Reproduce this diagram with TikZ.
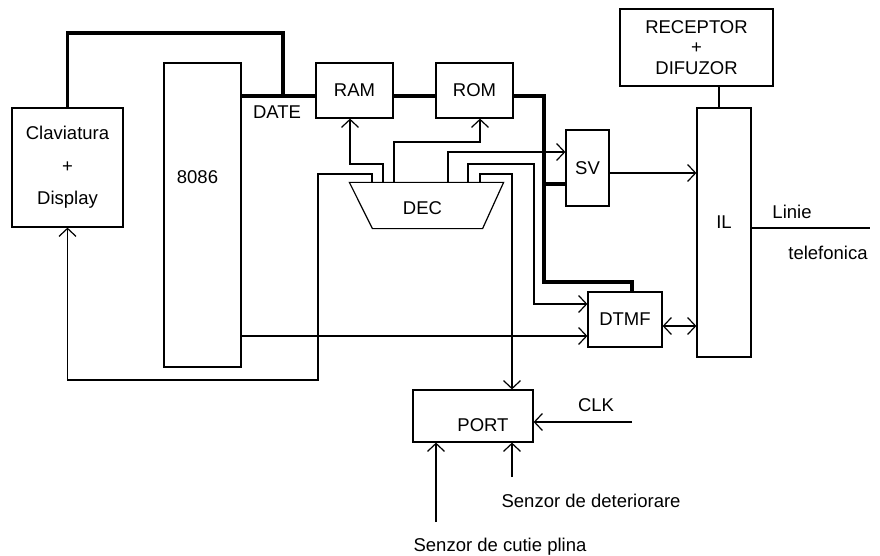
\documentclass[tikz,border=0pt]{standalone}
\usepackage{fontspec}
\setmainfont{Liberation Sans}
\usetikzlibrary{arrows.meta}

\begin{document}
\begin{tikzpicture}[x=1pt,y=-1pt,line width=1.2pt,
  font=\fontsize{18.5}{20.5}\selectfont,>={Straight Barb[length=8pt,width=17pt]},
  blk/.style={draw,inner sep=0pt,align=center},
  bus/.style={line width=3.2pt},
  txt/.style={inner sep=0pt}]
\useasboundingbox (0,0) rectangle (880,556);
% blocuri
\node[blk,minimum width=111pt,minimum height=119pt] (clav) at (67.5,167.5) {Claviatura\\[12pt]+\\[12pt]Display};
\node[blk,minimum width=77pt,minimum height=304pt,label={[name=cpulbl,xshift=-5pt,yshift=38pt]center:8086}] (cpu) at (202.5,215) {};
\node[blk,minimum width=77pt,minimum height=55pt] (ram) at (354.5,90.5) {RAM};
\node[blk,minimum width=77pt,minimum height=55pt] (rom) at (474.5,90.5) {ROM};
\node[blk,minimum width=43pt,minimum height=76pt] (sv) at (587.5,168) {SV};
\node[blk,minimum width=74pt,minimum height=55pt] (dtmf) at (625,319.5) {DTMF};
\node[blk,minimum width=54pt,minimum height=249pt,label={[name=illbl,yshift=10pt]center:IL}] (il) at (724,232.5) {};
\node[blk,minimum width=153pt,minimum height=77pt] (rec) at (696.5,47.5) {RECEPTOR\\+\\DIFUZOR};
\node[blk,minimum width=120pt,minimum height=52pt,label={[name=portlbl,xshift=10pt,yshift=-9pt]center:PORT}] (port) at (473,416) {};
% decodor (trapez)
\node[inner sep=0pt,minimum width=153pt,minimum height=45pt,label={[name=declbl,xshift=-4pt,yshift=-3pt]center:DEC}] (dec) at (426.5,205.5) {};
\draw (dec.north west) -- (dec.north east) -- ([xshift=-21pt]dec.south east)
  -- ([xshift=23pt]dec.south west) -- cycle;
% etichete
\node[txt] (date) at (277,112) {DATE};
\node[txt] (linie) at (792,212) {Linie};
\node[txt] (tel) at (828,253) {telefonica};
\node[txt] (clklbl) at (596,405) {CLK};
\node[txt,anchor=base west] (sdet) at (501,507) {Senzor de deteriorare};
\node[txt,anchor=base west] (scut) at (413,551) {Senzor de cutie plina};
\coordinate (busy) at (0,96);
\coordinate (bj) at (544,282);
\coordinate (clk) at (632,422);
\coordinate (sdetp) at (512,477);
\coordinate (scutp) at (436,522);
\coordinate (linend) at (870,228);
% magistrala de date
\draw[bus] (clav.north) |- (283,33) -- (283,0 |- busy);
\draw[bus] (cpu.east |- busy) -- (ram.west |- busy);
\draw[bus] (ram.east |- busy) -- (rom.west |- busy);
\draw[bus] (rom.east |- busy) -| (bj) -| ([xshift=7pt]dtmf.north);
\draw[bus] (bj |- 0,184) -- (sv.west |- 0,184);
% semnale de la decodor
\draw[->] (372,0 |- dec.north) |- (318,174) -- (318,380) -| (clav.south);
\draw[->] (383,0 |- dec.north) |- (350,164) -- (350,0 |- ram.south);
\draw[->] (394,0 |- dec.north) |- (480,142) -- (480,0 |- rom.south);
\draw[->] (448,0 |- dec.north) |- (sv.west |- 0,152);
\draw[->] (468,0 |- dec.north) |- (534,164) |- (dtmf.west |- 0,304);
\draw[->] (480,0 |- dec.north) |- (512,174) -- (512,0 |- port.north);
% restul legaturilor
\draw[->] (cpu.east |- 0,336) -- (dtmf.west |- 0,336);
\draw[->] (sv.east |- 0,173) -- (il.west |- 0,173);
\draw[<->] (dtmf.east |- 0,326) -- (il.west |- 0,326);
\draw (719,0 |- rec.south) -- (719,0 |- il.north);
\draw (il.east |- linend) -- (linend);
\draw[->] (clk) -- (port.east |- clk);
\draw[->] (sdetp) -- (sdetp |- port.south);
\draw[->] (scutp) -- (scutp |- port.south);
\end{tikzpicture}
\end{document}
